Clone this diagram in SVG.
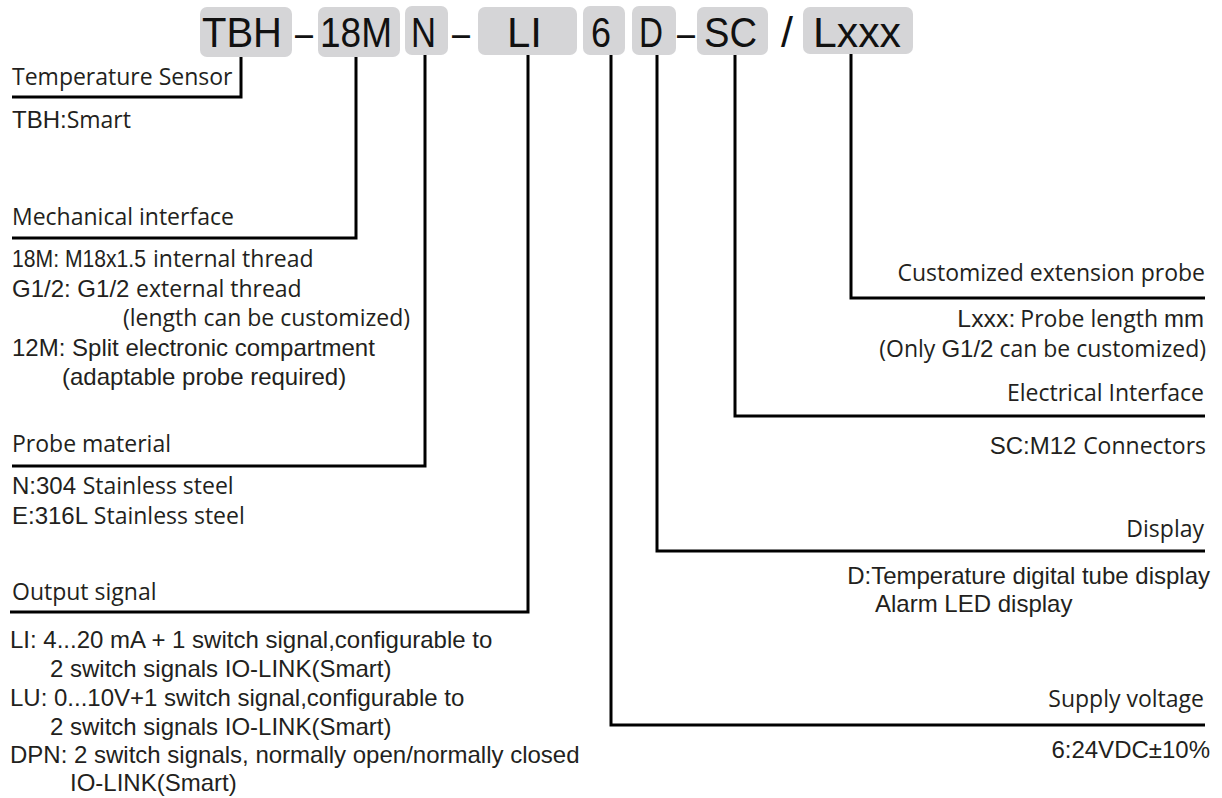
<svg xmlns="http://www.w3.org/2000/svg" width="1222" height="798" viewBox="0 0 1222 798">
<style>
.bg{fill:#ffffff}
.box{fill:#d5d5d7}
.code{font-family:"Liberation Sans",Arial,sans-serif;font-size:43px;fill:#111111}
.ln{fill:none;stroke:#000000;stroke-width:3}
.h{font-family:"Open Sans","Noto Sans",sans-serif;font-size:23px;fill:#231f20}
.a{font-family:"Liberation Sans",Arial,sans-serif;font-size:24px;fill:#231f20}
.m{font-family:"Open Sans","Noto Sans",sans-serif;font-size:23px;fill:#231f20}
.end{text-anchor:end}
</style>
<rect class="bg" x="0" y="0" width="1222" height="798"/>
<g id="code">
  <g id="code-tbh"><rect class="box" x="200" y="7" width="92" height="50" rx="7"/><text class="code" x="202" y="47" textLength="80" lengthAdjust="spacingAndGlyphs">TBH</text></g>
  <text class="code" x="295" y="47" textLength="18" lengthAdjust="spacingAndGlyphs">–</text>
  <g id="code-18m"><rect class="box" x="318" y="7" width="82" height="50" rx="7"/><text class="code" x="320" y="47" textLength="72" lengthAdjust="spacingAndGlyphs">18M</text></g>
  <g id="code-n"><rect class="box" x="405" y="6" width="43" height="49" rx="7"/><text class="code" x="411" y="47" textLength="25" lengthAdjust="spacingAndGlyphs">N</text></g>
  <text class="code" x="452" y="47" textLength="18" lengthAdjust="spacingAndGlyphs">–</text>
  <g id="code-li"><rect class="box" x="478" y="7" width="99" height="48" rx="7"/><text class="code" x="507" y="47" textLength="35" lengthAdjust="spacingAndGlyphs">LI</text></g>
  <g id="code-6"><rect class="box" x="583" y="6" width="42" height="49" rx="7"/><text class="code" x="591" y="47" textLength="20" lengthAdjust="spacingAndGlyphs">6</text></g>
  <g id="code-d"><rect class="box" x="632" y="6" width="44" height="49" rx="7"/><text class="code" x="639" y="47" textLength="24" lengthAdjust="spacingAndGlyphs">D</text></g>
  <text class="code" x="677" y="47" textLength="18" lengthAdjust="spacingAndGlyphs">–</text>
  <g id="code-sc"><rect class="box" x="697" y="7" width="71" height="48" rx="7"/><text class="code" x="704" y="47" textLength="53" lengthAdjust="spacingAndGlyphs">SC</text></g>
  <text class="code" x="781" y="47">/</text>
  <g id="code-lxxx"><rect class="box" x="803" y="7" width="110" height="47" rx="7"/><text class="code" x="813" y="47" textLength="88" lengthAdjust="spacingAndGlyphs">Lxxx</text></g>
</g>
<g id="connectors">
  <polyline class="ln" points="241,57 241,97 12,97"/>
  <polyline class="ln" points="356,57 356,238 12,238"/>
  <polyline class="ln" points="425,55 425,466 12,466"/>
  <polyline class="ln" points="528,55 528,612 10,612"/>
  <polyline class="ln" points="611,55 611,725 1205,725"/>
  <polyline class="ln" points="657,55 657,551 1205,551"/>
  <polyline class="ln" points="735,55 735,416 1205,416"/>
  <polyline class="ln" points="851,54 851,298 1205,298"/>
</g>
<g id="sensor">
  <text class="h" x="12" y="85">Temperature Sensor</text>
  <text x="12" y="128"><tspan class="a">TBH:</tspan><tspan class="m">Smart</tspan></text>
</g>
<g id="mechanical">
  <text class="h" x="12" y="225">Mechanical interface</text>
  <text x="12" y="267"><tspan class="a" textLength="134" lengthAdjust="spacingAndGlyphs">18M: M18x1.5</tspan><tspan class="m" dx="7">internal thread</tspan></text>
  <text x="12" y="297"><tspan class="a">G1/2: G1/2 </tspan><tspan class="m">external thread</tspan></text>
  <text class="m" x="123" y="326">(length can be customized)</text>
  <text x="12" y="356"><tspan class="a">12M: Split electronic compartment</tspan></text>
  <text class="a" x="62" y="385">(adaptable probe required)</text>
</g>
<g id="material">
  <text class="h" x="12" y="452">Probe material</text>
  <text x="12" y="494"><tspan class="a">N:304 </tspan><tspan class="m" font-size="22">Stainless steel</tspan></text>
  <text x="12" y="524"><tspan class="a" font-size="21">E:316L </tspan><tspan class="m" font-size="22">Stainless steel</tspan></text>
</g>
<g id="output">
  <text class="h" x="12" y="600">Output signal</text>
  <text class="a" x="10" y="648">LI: 4...20 mA + 1 switch signal,configurable to</text>
  <text class="a" x="50" y="677">2 switch signals IO-LINK(Smart)</text>
  <text class="a" x="10" y="706">LU: 0...10V+1 switch signal,configurable to</text>
  <text class="a" x="50" y="735">2 switch signals IO-LINK(Smart)</text>
  <text class="a" x="10" y="763">DPN: 2 switch signals, normally open/normally closed</text>
  <text class="a" x="70" y="791">IO-LINK(Smart)</text>
</g>
<g id="extension">
  <text class="h end" x="1205" y="281">Customized extension probe</text>
  <text class="end" x="1204" y="327"><tspan class="a" textLength="58" lengthAdjust="spacingAndGlyphs">Lxxx:</tspan><tspan class="m" dx="5">Probe length</tspan><tspan class="a" font-size="20" dx="6">mm</tspan></text>
  <text class="end" x="1206" y="357"><tspan class="m">(Only </tspan><tspan class="a">G1/2</tspan><tspan class="m"> can be customized)</tspan></text>
</g>
<g id="electrical">
  <text class="h end" x="1204" y="401">Electrical Interface</text>
  <text class="end" x="1206" y="454"><tspan class="a">SC:M12 </tspan><tspan class="m">Connectors</tspan></text>
</g>
<g id="display">
  <text class="h end" x="1204" y="537">Display</text>
  <text class="a end" x="1210" y="584">D:Temperature digital tube display</text>
  <text class="a" x="875" y="612">Alarm LED display</text>
</g>
<g id="supply">
  <text class="h end" x="1204" y="707">Supply voltage</text>
  <text class="a end" x="1210" y="758">6:24VDC±10%</text>
</g>
</svg>
